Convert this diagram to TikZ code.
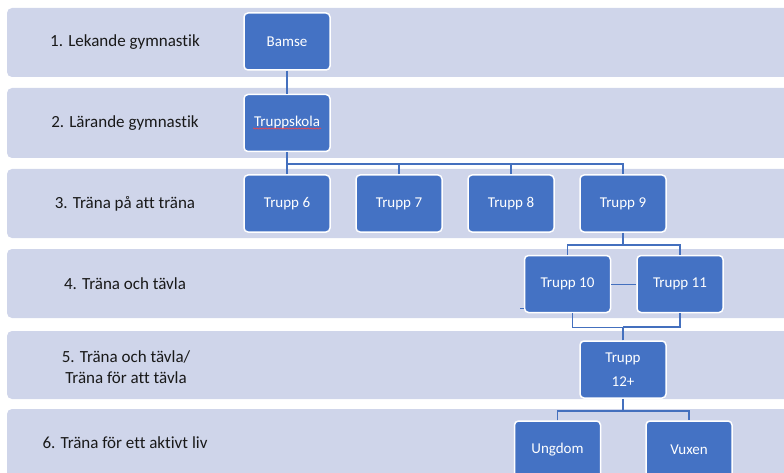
\documentclass[tikz,border=0pt]{standalone}
\usepackage{fontspec}
\setmainfont{Carlito}[Ligatures=NoCommon]
\usepackage{xcolor}
\usetikzlibrary{calc}
\usetikzlibrary{decorations.pathmorphing}
\definecolor{bandC}{HTML}{CFD5EA}
\definecolor{boxC}{HTML}{4472C4}
\definecolor{lineC}{HTML}{4470BE}

\tikzset{
  band/.style={fill=bandC, rounded corners=5pt},
  steplabel/.style={align=center, text=black!90, font=\fontsize{17}{21}\selectfont},
  trupp/.style={fill=boxC, draw=white, line width=1.5pt, rounded corners=4pt,
    minimum width=86pt, minimum height=57pt, inner sep=0pt, align=center,
    text=white, font=\fontsize{15}{24}\selectfont},
  conn/.style={draw=lineC, line width=1.6pt},
  thinconn/.style={draw=lineC, line width=0.8pt}
}

\begin{document}
\begin{tikzpicture}[x=1pt,y=-1pt]
\useasboundingbox (0,0) rectangle (784,473);
% level bands
\fill[band] (7,8) rectangle (800,77);
\fill[band] (7,88) rectangle (800,158);
\fill[band] (7,169) rectangle (800,238);
\fill[band] (7,249) rectangle (800,318);
\fill[band] (7,331) rectangle (800,399);
\fill[band] (7,409) rectangle (800,490);

\node[steplabel] (lab1) at (125,42.5) {1. Lekande gymnastik};
\node[steplabel] (lab2) at (125,123) {2. Lärande gymnastik};
\node[steplabel] (lab3) at (125,203.5) {3. Träna på att träna};
\node[steplabel] (lab4) at (125,283.5) {4. Träna och tävla};
\node[steplabel] (lab5) at (126,367) {5. Träna och tävla/\\ Träna för att tävla};
\node[steplabel] (lab6) at (125,443) {6. Träna för ett aktivt liv};

% groups
\node[trupp] (bamse) at (287,41.5) {Bamse};
\node[trupp] (skola) at (287,123) {Truppskola};
\node[trupp] (t6) at (287,203.5) {Trupp 6};
\node[trupp] (t7) at (399,203.5) {Trupp 7};
\node[trupp] (t8) at (511,203.5) {Trupp 8};
\node[trupp] (t9) at (623,203.5) {Trupp 9};
\node[trupp] (t10) at (567.5,284) {Trupp 10};
\node[trupp] (t11) at (680,284) {Trupp 11};
\node[trupp] (t12) at (623,369.5) {Trupp\\ 12+};
\node[trupp] (ungdom) at (557.5,449.5) {Ungdom};
\node[trupp] (vuxen) at (689,449.5) {Vuxen};

% spell-check squiggle
\draw[red!75, line width=0.6pt, decorate,
  decoration={snake, amplitude=0.6pt, segment length=3pt}]
  ([shift={(-34pt,-5.5pt)}]skola.center) -- ([shift={(34pt,-5.5pt)}]skola.center);

% connectors
\draw[conn] (bamse) -- (skola);
\draw[conn] (skola.south) -- ++(0,11.5) coordinate (s1) -| (t9.north);
\draw[conn] (t6.north) -- (t6.north |- s1);
\draw[conn] (t7.north) -- (t7.north |- s1);
\draw[conn] (t8.north) -- (t8.north |- s1);
\draw[conn] (t9.south) -- ++(0,12) coordinate (s9);
\draw[conn] (t10.north) |- (s9) -| (t11.north);
\draw[thinconn] (t10.east) -- (t11.west);
\draw[thinconn] ([yshift=4.5pt]t10.south west) -- ++(-4,0);
\draw[conn] (t12.north) -- ++(0,-13) coordinate (m12);
\draw[thinconn] ([xshift=4.5pt]t10.south) |- (m12);
\draw[conn] (t11.south) |- (m12);
\draw[conn] (t12.south) -- ++(0,12) coordinate (s12);
\draw[conn] (ungdom.north) |- (s12) -| (vuxen.north);
\end{tikzpicture}
\end{document}
